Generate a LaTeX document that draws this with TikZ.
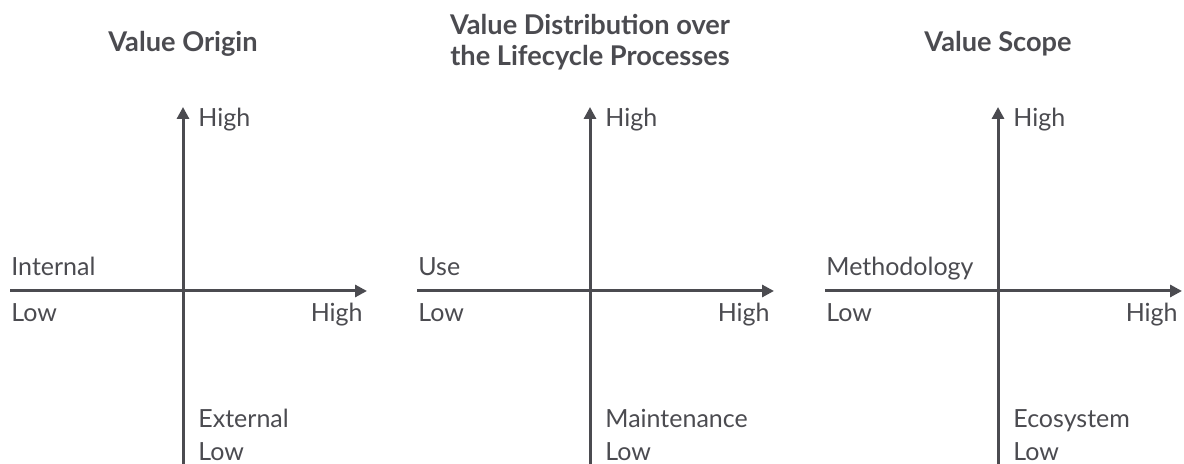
\documentclass[tikz,border=0pt]{standalone}
\usepackage{fontspec}
\setmainfont{Lato}
\usepackage{tikz}
\usetikzlibrary{
	positioning,
	calc,
	arrows.meta
}
\definecolor{axisgray}{RGB}{75,75,80}

\begin{document}
\begin{tikzpicture}[
			x=0.5pt, y=0.5pt,
			axis/.style={draw=axisgray, line width=1.5pt, -{Triangle[length=6pt,width=6pt]}},
			label/.style={text=axisgray, inner sep=0, font=\fontsize{12.5}{15}\selectfont},
			heading/.style={text=axisgray, inner sep=0, align=center, font=\fontsize{13.6}{15.5}\selectfont\bfseries}]

			\useasboundingbox (0,0) rectangle (1184,464);

			\foreach \cx/\ty/\n/\ttl/\lft/\btm in {
				183/412/orig/{Value Origin}/Internal/External,
				590/398/dist/{Value Distribution over\\the Lifecycle Processes}/Use/Maintenance,
				998/412/scope/{Value Scope}/Methodology/Ecosystem}
			{
				% axes
				\coordinate (\n-left) at (\cx-173,173);
				\coordinate (\n-right) at (\cx+184,173);
				\coordinate (\n-bottom) at (\cx,0);
				\coordinate (\n-top) at (\cx,357);
				\draw[axis] (\n-left) -- (\n-right);
				\draw[axis] (\n-bottom) -- (\n-top);

				% labels
				\node[heading, anchor=base] (\n-title) at (\cx,\ty) {\ttl};
				\node[label, anchor=base west] (\n-high) at (\cx+15,337) {High};
				\node[label, anchor=base west] (\n-lft) at (\cx-172,188) {\lft};
				\node[label, anchor=base west] (\n-lowx) at (\cx-172,142) {Low};
				\node[label, anchor=base east] (\n-highx) at (\cx+180,142) {High};
				\node[label, anchor=base west] (\n-btm) at (\cx+15,36) {\btm};
				\node[label, anchor=base west] (\n-lowy) at (\cx+15,3) {Low};
			}
		\end{tikzpicture}
\end{document}
